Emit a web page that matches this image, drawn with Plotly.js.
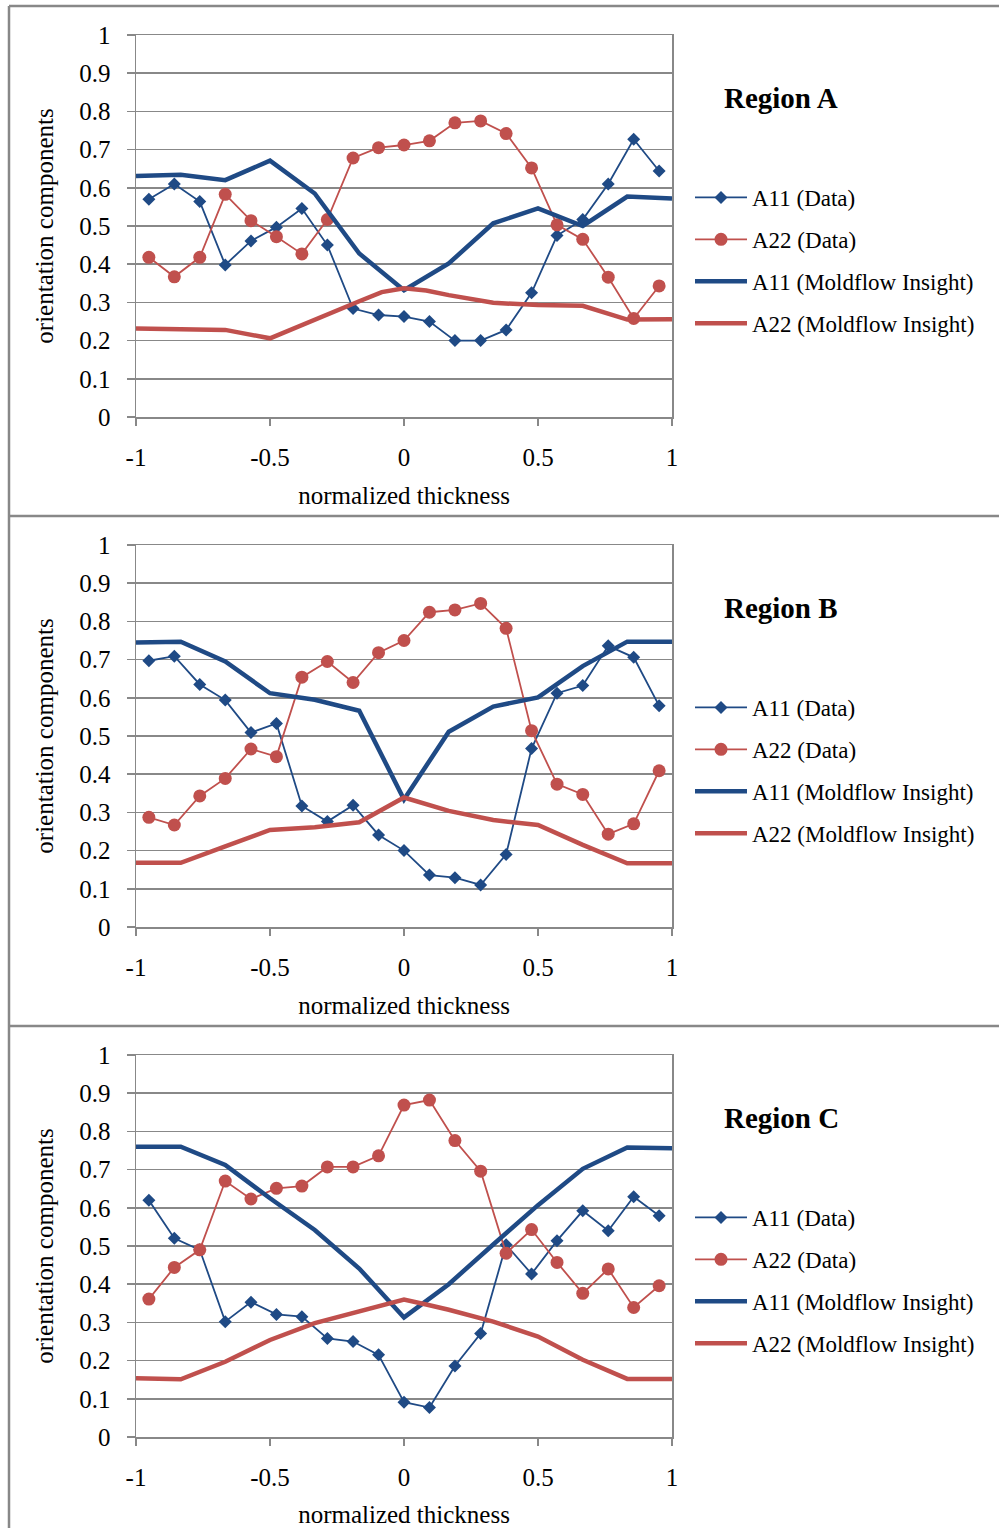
<!DOCTYPE html>
<html>
<head>
<meta charset="utf-8">
<script src="https://cdn.plot.ly/plotly-3.0.1.min.js"></script>
<style>
html,body{margin:0;padding:0;background:#fff;}
#chart{width:999px;height:1528px;}
</style>
</head>
<body>
<div id="chart"></div>
<script>
// ---- data ----
const thickness = [-0.952,-0.857,-0.762,-0.667,-0.571,-0.476,-0.381,-0.286,-0.190,-0.095,0,0.095,0.190,0.286,0.381,0.476,0.571,0.667,0.762,0.857,0.952];

const regionNames = ["Region A", "Region B", "Region C"];
const seriesNames = ["A11 (Data)", "A22 (Data)", "A11 (Moldflow Insight)", "A22 (Moldflow Insight)"];

const a11DataA = [0.570,0.610,0.564,0.398,0.461,0.497,0.546,0.450,0.284,0.267,0.263,0.250,0.200,0.200,0.228,0.325,0.475,0.517,0.610,0.727,0.644];
const a22DataA = [0.418,0.367,0.418,0.583,0.514,0.472,0.427,0.517,0.678,0.705,0.712,0.723,0.770,0.775,0.742,0.652,0.503,0.465,0.366,0.258,0.343];
const a11MfXA = [-1,-0.833,-0.667,-0.5,-0.333,-0.167,0,0.167,0.333,0.5,0.667,0.833,1];
const a11MfA  = [0.631,0.634,0.620,0.671,0.585,0.428,0.332,0.402,0.507,0.546,0.500,0.577,0.572];
const a22MfXA = [-1,-0.833,-0.667,-0.5,-0.333,-0.167,-0.083,0,0.083,0.167,0.333,0.5,0.667,0.833,1];
const a22MfA  = [0.232,0.229,0.228,0.206,0.256,0.303,0.327,0.337,0.331,0.319,0.299,0.293,0.291,0.255,0.256];

const a11DataB = [0.697,0.709,0.635,0.594,0.509,0.533,0.317,0.276,0.319,0.241,0.200,0.136,0.129,0.110,0.190,0.467,0.612,0.632,0.736,0.706,0.579];
const a22DataB = [0.287,0.267,0.343,0.389,0.466,0.446,0.654,0.695,0.640,0.718,0.750,0.824,0.830,0.847,0.782,0.514,0.374,0.347,0.243,0.270,0.409];
const a11MfXB = [-1,-0.833,-0.667,-0.5,-0.333,-0.167,0,0.167,0.333,0.5,0.667,0.833,1];
const a11MfB  = [0.745,0.747,0.695,0.612,0.595,0.566,0.334,0.511,0.577,0.601,0.683,0.747,0.747];
const a22MfXB = [-1,-0.833,-0.667,-0.5,-0.333,-0.167,0,0.167,0.333,0.5,0.667,0.833,1];
const a22MfB  = [0.168,0.168,0.211,0.254,0.261,0.274,0.339,0.304,0.280,0.267,0.215,0.167,0.167];

const a11DataC = [0.620,0.520,0.490,0.302,0.353,0.321,0.315,0.258,0.250,0.215,0.091,0.077,0.186,0.271,0.503,0.427,0.514,0.592,0.540,0.629,0.579];
const a22DataC = [0.361,0.444,0.490,0.670,0.623,0.651,0.657,0.707,0.707,0.736,0.869,0.882,0.776,0.696,0.481,0.543,0.457,0.376,0.440,0.339,0.396];
const a11MfXC = [-1,-0.833,-0.667,-0.5,-0.333,-0.167,0,0.083,0.167,0.333,0.5,0.667,0.833,1];
const a11MfC  = [0.760,0.760,0.712,0.625,0.542,0.441,0.313,0.355,0.400,0.504,0.607,0.702,0.758,0.756];
const a22MfXC = [-1,-0.833,-0.667,-0.5,-0.333,-0.167,0,0.083,0.167,0.333,0.5,0.667,0.833,1];
const a22MfC  = [0.154,0.151,0.197,0.254,0.298,0.330,0.360,0.347,0.333,0.302,0.263,0.202,0.152,0.152];

const yTickVals = [0,0.1,0.2,0.3,0.4,0.5,0.6,0.7,0.8,0.9,1];
const yTickText = ["0","0.1","0.2","0.3","0.4","0.5","0.6","0.7","0.8","0.9","1"];
const xTickVals = [-1,-0.5,0,0.5,1];
const xTickText = ["-1","-0.5","0","0.5","1"];

// ---- styling ----
const W = 999, H = 1528;
const BLUE = "#1f4a85", RED = "#c0504d", GRID = "#888888";
const FONT = "Liberation Serif, Times New Roman, serif";
const px = v => v / W;
const py = v => 1 - v / H;

const regions = [
  {a11d: a11DataA, a22d: a22DataA, a11x: a11MfXA, a11m: a11MfA, a22x: a22MfXA, a22m: a22MfA},
  {a11d: a11DataB, a22d: a22DataB, a11x: a11MfXB, a11m: a11MfB, a22x: a22MfXB, a22m: a22MfB},
  {a11d: a11DataC, a22d: a22DataC, a11x: a11MfXC, a11m: a11MfC, a22x: a22MfXC, a22m: a22MfC}
];

const traces = [];
const layout = {
  width: W, height: H,
  margin: {l:0, r:0, t:0, b:0},
  paper_bgcolor: "#fff", plot_bgcolor: "#fff",
  font: {family: FONT, size: 24, color: "#000"},
  showlegend: true,
  annotations: [], shapes: []
};

regions.forEach((r, i) => {
  const n = i === 0 ? "" : String(i + 1);
  const xa = "x" + n, ya = "y" + n;
  const lg = "legend" + n;
  const off = i * 510;
  const common = {xaxis: xa, yaxis: ya, legend: lg, type: "scatter"};
  traces.push(Object.assign({}, common, {
    x: thickness, y: r.a11d, name: seriesNames[0], legendgroup: "g0" + i, mode: "lines+markers",
    line: {color: BLUE, width: 1.8}, marker: {symbol: "diamond", size: 10, color: BLUE}
  }));
  traces.push(Object.assign({}, common, {
    x: thickness, y: r.a22d, name: seriesNames[1], legendgroup: "g1" + i, mode: "lines+markers",
    line: {color: RED, width: 1.8}, marker: {symbol: "circle", size: 13, color: RED}
  }));
  traces.push(Object.assign({}, common, {
    x: r.a11x, y: r.a11m, name: seriesNames[2], legendgroup: "g2" + i, mode: "lines",
    line: {color: BLUE, width: 4.5}
  }));
  traces.push(Object.assign({}, common, {
    x: r.a22x, y: r.a22m, name: seriesNames[3], legendgroup: "g3" + i, mode: "lines",
    line: {color: RED, width: 4.5}
  }));

  layout["xaxis" + n] = {
    domain: [px(136), px(672)], anchor: ya, range: [-1, 1],
    tickvals: xTickVals, ticktext: xTickText, ticks: "outside", ticklen: 7, tickwidth: 1.5, tickcolor: GRID,
    showgrid: false, zeroline: false, showline: true, linecolor: GRID, linewidth: 1.5, mirror: true,
    tickfont: {family: FONT, size: 25, color: "#000"}, ticklabelstandoff: 10,
    title: {text: "normalized thickness", font: {family: FONT, size: 25, color: "#000"}, standoff: 17},
    fixedrange: true
  };
  layout["yaxis" + n] = {
    domain: [py(417 + off), py(35 + off)], anchor: xa, range: [0, 1],
    tickvals: yTickVals, ticktext: yTickText, ticks: "outside", ticklen: 8, tickwidth: 1.5, tickcolor: GRID,
    showgrid: true, gridcolor: GRID, gridwidth: 1.5, zeroline: false, showline: true, linecolor: GRID, linewidth: 1.5, mirror: true,
    tickfont: {family: FONT, size: 25, color: "#000"}, ticklabelstandoff: 11,
    title: {text: "orientation components", font: {family: FONT, size: 25, color: "#000"}, standoff: 18},
    fixedrange: true
  };
  layout[lg] = {
    x: px(690), xanchor: "left", y: py(176 + off), yanchor: "top",
    font: {family: FONT, size: 23, color: "#000"}, bgcolor: "rgba(0,0,0,0)", borderwidth: 0,
    itemwidth: 52, tracegroupgap: 9, traceorder: "grouped"
  };
  layout.annotations.push({
    text: "<b>" + regionNames[i] + "</b>", xref: "paper", yref: "paper",
    x: px(781), y: py(98 + off), xanchor: "center", yanchor: "middle", showarrow: false,
    font: {family: FONT, size: 29, color: "#000"}
  });
  // panel frame separators
  layout.shapes.push({type: "line", xref: "paper", yref: "paper", x0: px(9), x1: 1, y0: py(6 + off), y1: py(6 + off),
    line: {color: GRID, width: 2.5}});
});
layout.shapes.push({type: "line", xref: "paper", yref: "paper", x0: px(9), x1: px(9), y0: py(6), y1: 0,
  line: {color: GRID, width: 2.5}});

Plotly.newPlot("chart", traces, layout, {staticPlot: true, displayModeBar: false});
</script>
</body>
</html>
